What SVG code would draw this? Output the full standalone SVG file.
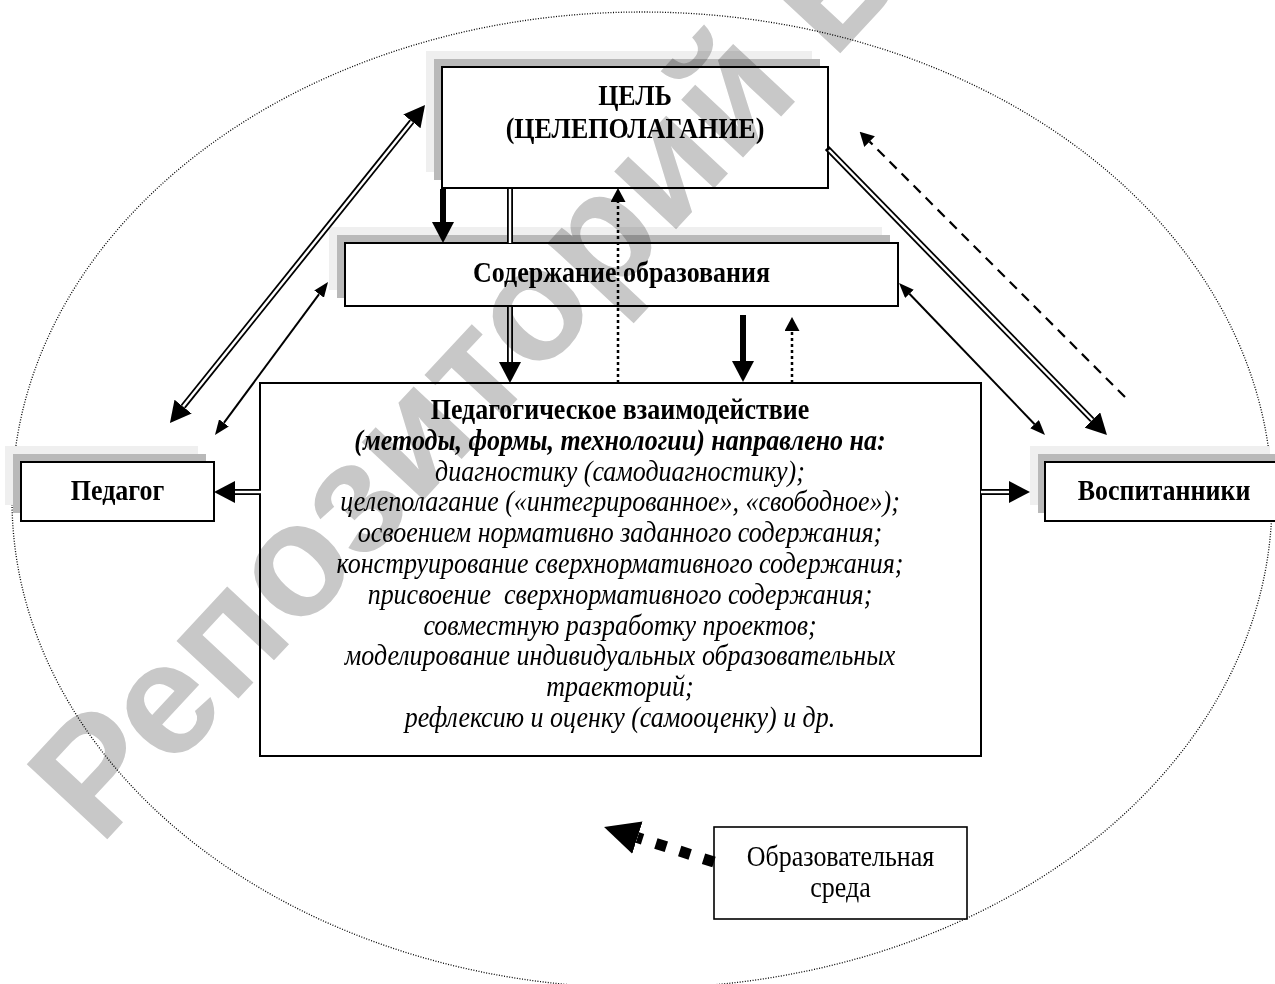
<svg xmlns="http://www.w3.org/2000/svg" width="1275" height="984" viewBox="0 0 1275 984">
<style>
.box{fill:#fff;stroke:#000;stroke-width:2}
.sh1{fill:#efefef}
.sh2{fill:#b9b9b9}
.t{font-family:"Liberation Serif","Times New Roman",serif;font-size:26px;text-anchor:middle;fill:#000}
.b{font-weight:bold}
.i{font-style:italic}
.dblo{stroke:#000;stroke-width:6;fill:none}
.dbli{stroke:#fff;stroke-width:2.4;fill:none}
.thin{stroke:#000;stroke-width:2;fill:none}
.thick{stroke:#000;stroke-width:6;fill:none}
.dot{stroke:#000;stroke-width:2.5;stroke-dasharray:3 3;fill:none}
.dash{stroke:#000;stroke-width:2.2;stroke-dasharray:10 7;fill:none}
.bigdash{stroke:#000;stroke-width:11;stroke-dasharray:11 14;fill:none}
.wm{font-family:"Liberation Sans",Arial,sans-serif;font-weight:bold;font-size:160px;fill:#c8c8c8;mix-blend-mode:multiply}
</style>
<defs>
<marker id="big" markerUnits="userSpaceOnUse" markerWidth="21" markerHeight="22" viewBox="0 0 21 22" refX="0" refY="11" orient="auto-start-reverse"><path d="M0,0 L21,11 L0,22 z" fill="#000"/></marker>
<marker id="small" markerUnits="userSpaceOnUse" markerWidth="15" markerHeight="12" viewBox="0 0 15 12" refX="0" refY="6" orient="auto-start-reverse"><path d="M0,0 L15,6 L0,12 z" fill="#000"/></marker>
<marker id="mid" markerUnits="userSpaceOnUse" markerWidth="14" markerHeight="15" viewBox="0 0 14 15" refX="0" refY="7.5" orient="auto-start-reverse"><path d="M0,0 L14,7.5 L0,15 z" fill="#000"/></marker>
<marker id="huge" markerUnits="userSpaceOnUse" markerWidth="35" markerHeight="34" viewBox="0 0 35 34" refX="0" refY="17" orient="auto-start-reverse"><path d="M0,0 L35,17 L0,34 z" fill="#000"/></marker>
</defs>
<rect width="1275" height="984" fill="#fff"/>
<ellipse id="sreda-ellipse" cx="642" cy="500" rx="630" ry="488" fill="none" stroke="#000" stroke-width="1.3" stroke-dasharray="1 1.6"/>

<g id="node-cel">
<rect class="sh1" x="426" y="51" width="386" height="121"/>
<rect class="sh2" x="434" y="59" width="386" height="121"/>
<rect class="box" x="442" y="67" width="386" height="121"/>
<text class="t b" transform="translate(635,105) scale(1,1.15)">ЦЕЛЬ</text>
<text class="t b" transform="translate(635,138) scale(1,1.15)">(ЦЕЛЕПОЛАГАНИЕ)</text>
</g>

<g id="node-soderzhanie">
<rect class="sh1" x="329" y="227" width="553" height="63"/>
<rect class="sh2" x="337" y="235" width="553" height="63"/>
<rect class="box" x="345" y="243" width="553" height="63"/>
<text class="t b" transform="translate(621.5,282) scale(1,1.15)">Содержание образования</text>
</g>

<g id="node-vzaimodeystvie">
<rect class="box" x="260" y="383" width="721" height="373"/>
<text class="t b" transform="translate(620,419) scale(1,1.15)">Педагогическое взаимодействие</text>
<text class="t b i" transform="translate(620,450) scale(1,1.15)">(методы, формы, технологии) направлено на:</text>
<text class="t i" transform="translate(620,481) scale(1,1.15)">диагностику (самодиагностику);</text>
<text class="t i" transform="translate(620,511) scale(1,1.15)">целеполагание («интегрированное», «свободное»);</text>
<text class="t i" transform="translate(620,542) scale(1,1.15)">освоением нормативно заданного содержания;</text>
<text class="t i" transform="translate(620,573) scale(1,1.15)">конструирование сверхнормативного содержания;</text>
<text class="t i" transform="translate(620,604) scale(1,1.15)">присвоение&#160; сверхнормативного содержания;</text>
<text class="t i" transform="translate(620,635) scale(1,1.15)">совместную разработку проектов;</text>
<text class="t i" transform="translate(620,665) scale(1,1.15)">моделирование индивидуальных образовательных</text>
<text class="t i" transform="translate(620,696) scale(1,1.15)">траекторий;</text>
<text class="t i" transform="translate(620,727) scale(1,1.15)">рефлексию и оценку (самооценку) и др.</text>
</g>

<g id="node-pedagog">
<rect class="sh1" x="5" y="446" width="193" height="59"/>
<rect class="sh2" x="13" y="454" width="193" height="59"/>
<rect class="box" x="21" y="462" width="193" height="59"/>
<text class="t b" transform="translate(117.5,500) scale(1,1.15)">Педагог</text>
</g>

<g id="node-vospitanniki">
<rect class="sh1" x="1030" y="446" width="240" height="59"/>
<rect class="sh2" x="1038" y="454" width="240" height="59"/>
<rect class="box" x="1045" y="462" width="240" height="59"/>
<text class="t b" transform="translate(1164,500) scale(1,1.15)">Воспитанники</text>
</g>

<g id="node-sreda">
<rect class="box" x="714" y="827" width="253" height="92" style="stroke-width:1.6"/>
<text class="t" transform="translate(840.5,866) scale(1,1.15)">Образовательная</text>
<text class="t" transform="translate(840.5,897) scale(1,1.15)">среда</text>
</g>

<g id="connectors">
<path class="dblo" d="M183.1,406.6 L411.9,121.4" marker-start="url(#big)" marker-end="url(#big)"/>
<path class="dbli" d="M183.1,406.6 L411.9,121.4"/>
<path class="thin" d="M223.9,422.9 L319.1,294.1" marker-start="url(#small)" marker-end="url(#small)"/>
<path class="dblo" d="M827,148 L1092.3,420" marker-end="url(#big)"/>
<path class="dbli" d="M829,150 L1092.3,420"/>
<path class="dash" d="M1125,397 L869.6,141.6" marker-end="url(#mid)"/>
<path class="thin" d="M909.4,293.8 L1034.6,424.2" marker-start="url(#small)" marker-end="url(#small)"/>
<path class="dblo" d="M261,492 L235,492" marker-end="url(#big)"/>
<path class="dbli" d="M261,492 L235,492"/>
<path class="dblo" d="M981,492 L1009,492" marker-end="url(#big)"/>
<path class="dbli" d="M981,492 L1009,492"/>
<path class="thick" d="M443,189 L443,222" marker-end="url(#big)"/>
<path class="dblo" d="M510,189 L510,243"/>
<path class="dbli" d="M510,189 L510,243"/>
<path class="dblo" d="M510,307 L510,362" marker-end="url(#big)"/>
<path class="dbli" d="M510,307 L510,362"/>
<path class="dot" d="M618,383 L618,202" marker-end="url(#mid)"/>
<path class="thick" d="M743,315 L743,361" marker-end="url(#big)"/>
<path class="dot" d="M792,383 L792,331" marker-end="url(#mid)"/>
<path class="bigdash" d="M714,862 L637.4,837.6" marker-end="url(#huge)"/>
</g>

<text class="wm" transform="translate(100,847) rotate(-47)">Репозиторий Б</text>
</svg>
